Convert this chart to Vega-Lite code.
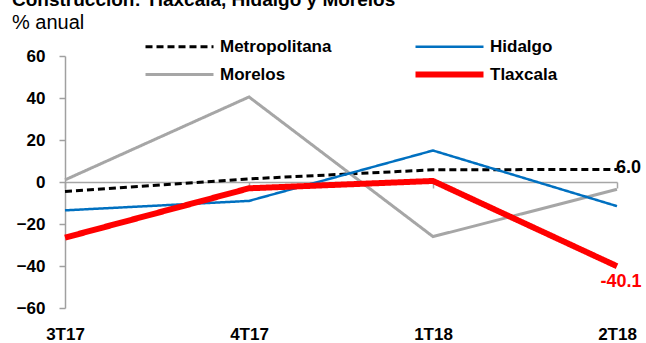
{
  "$schema": "https://vega.github.io/schema/vega-lite/v6.json",
  "width": 552,
  "height": 252,
  "autosize": {"type": "none"},
  "padding": {"left": 65, "top": 56, "right": 29, "bottom": 35},
  "background": "white",
  "title": {
    "text": "Construcción: Tlaxcala, Hidalgo y Morelos",
    "subtitle": "% anual",
    "anchor": "start",
    "frame": "group",
    "dx": -53,
    "offset": 5,
    "font": "Liberation Sans",
    "fontSize": 19,
    "fontWeight": "bold",
    "color": "#000000",
    "subtitleFont": "Liberation Sans",
    "subtitleFontSize": 20,
    "subtitleFontWeight": "normal",
    "subtitleColor": "#000000",
    "subtitlePadding": 3
  },
  "data": {
    "values": [
      {"serie": "Metropolitana", "t": "3T17", "v": -4.5},
      {"serie": "Metropolitana", "t": "4T17", "v": 1.5},
      {"serie": "Metropolitana", "t": "1T18", "v": 5.8},
      {"serie": "Metropolitana", "t": "2T18", "v": 6.0, "label": "6.0"},
      {"serie": "Morelos", "t": "3T17", "v": 1.0},
      {"serie": "Morelos", "t": "4T17", "v": 40.5},
      {"serie": "Morelos", "t": "1T18", "v": -26.0},
      {"serie": "Morelos", "t": "2T18", "v": -3.5},
      {"serie": "Hidalgo", "t": "3T17", "v": -13.5},
      {"serie": "Hidalgo", "t": "4T17", "v": -9.0},
      {"serie": "Hidalgo", "t": "1T18", "v": 15.0},
      {"serie": "Hidalgo", "t": "2T18", "v": -11.5},
      {"serie": "Tlaxcala", "t": "3T17", "v": -26.5},
      {"serie": "Tlaxcala", "t": "4T17", "v": -3.0},
      {"serie": "Tlaxcala", "t": "1T18", "v": 0.5},
      {"serie": "Tlaxcala", "t": "2T18", "v": -40.1, "label": "-40.1"}
    ]
  },
  "resolve": {"axis": {"x": "independent"}},
  "layer": [
    {
      "mark": {"type": "line", "strokeCap": "butt", "strokeJoin": "miter"},
      "encoding": {
        "x": {
          "field": "t", "type": "ordinal",
          "sort": ["3T17", "4T17", "1T18", "2T18"],
          "scale": {"type": "point", "padding": 0},
          "axis": {"title": null, "domain": false, "ticks": false, "labelAngle": 0, "labelPadding": 18, "labelFontSize": 17, "labelFontWeight": "bold", "labelFont": "Liberation Sans", "labelColor": "#000000"}
        },
        "y": {
          "field": "v", "type": "quantitative",
          "scale": {"domain": [-60, 60], "nice": false, "zero": false},
          "axis": {"title": null, "values": [-60, -40, -20, 0, 20, 40, 60], "grid": false, "domainColor": "#A0A0A0", "domainWidth": 1.5, "tickColor": "#A0A0A0", "tickWidth": 1.5, "tickSize": 6, "labelPadding": 14, "labelFontSize": 17, "labelFontWeight": "bold", "labelFont": "Liberation Sans", "labelColor": "#000000"}
        },
        "color": {
          "field": "serie", "type": "nominal",
          "scale": {"domain": ["Metropolitana", "Hidalgo", "Morelos", "Tlaxcala"], "range": ["#000000", "#0070C0", "#A6A6A6", "#FF0000"]},
          "legend": {
            "title": null, "orient": "none", "legendX": 106, "legendY": -18,
            "columns": 2, "direction": "horizontal",
            "symbolType": "M-17,0H17", "symbolSize": 16,
            "labelOffset": 32, "columnPadding": 71, "rowPadding": 7,
            "labelFontSize": 17, "labelFontWeight": "bold", "labelFont": "Liberation Sans", "labelColor": "#000000"
          }
        },
        "strokeDash": {
          "field": "serie", "type": "nominal",
          "scale": {"domain": ["Metropolitana", "Hidalgo", "Morelos", "Tlaxcala"], "range": [[7, 4], [1, 0], [1, 0], [1, 0]]},
          "legend": {"title": null}
        },
        "strokeWidth": {
          "field": "serie", "type": "nominal",
          "scale": {"type": "ordinal", "domain": ["Metropolitana", "Hidalgo", "Morelos", "Tlaxcala"], "range": [3, 2.5, 3, 6]},
          "legend": {"title": null}
        }
      }
    },
    {
      "transform": [{"filter": "datum.label == '6.0'"}],
      "mark": {"type": "text", "align": "left", "baseline": "middle", "dx": -1, "dy": -1, "fontSize": 18, "fontWeight": "bold", "font": "Liberation Sans", "color": "#000000"},
      "encoding": {
        "x": {
          "field": "t", "type": "ordinal", "sort": ["3T17", "4T17", "1T18", "2T18"],
          "axis": {"title": null, "orient": "bottom", "offset": -126, "labels": false, "domain": true, "ticks": true, "tickSize": 6, "domainColor": "#A6A6A6", "domainWidth": 1.5, "tickColor": "#A6A6A6", "tickWidth": 1.5}
        },
        "y": {"field": "v", "type": "quantitative"},
        "text": {"field": "label"}
      }
    },
    {
      "transform": [{"filter": "datum.label == '-40.1'"}],
      "mark": {"type": "text", "align": "center", "baseline": "middle", "dx": 4, "dy": 16, "fontSize": 18, "fontWeight": "bold", "font": "Liberation Sans", "color": "#FF0000"},
      "encoding": {
        "x": {"field": "t", "type": "ordinal", "sort": ["3T17", "4T17", "1T18", "2T18"], "axis": null},
        "y": {"field": "v", "type": "quantitative"},
        "text": {"field": "label"}
      }
    }
  ],
  "config": {"view": {"stroke": null}}
}
